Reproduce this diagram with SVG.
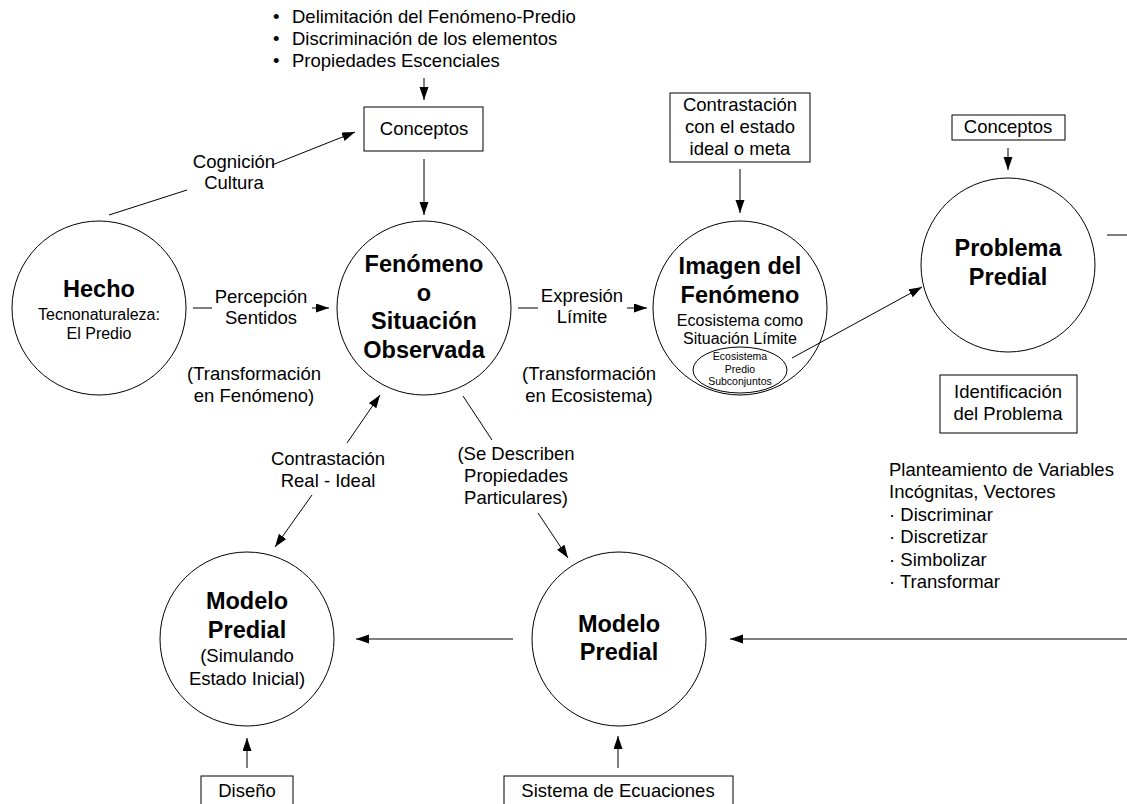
<svg xmlns="http://www.w3.org/2000/svg" width="1127" height="804" viewBox="0 0 1127 804">
<style>
text{font-family:"Liberation Sans",Arial,sans-serif;fill:#000}
.r{font-size:18.5px;text-anchor:middle}
.l{font-size:18.5px}
.b{font-size:23.5px;font-weight:bold;text-anchor:middle}
.s{font-size:16px;text-anchor:middle}
.xs{font-size:10.5px;text-anchor:middle}
.n{fill:#fff;stroke:#000;stroke-width:1}
.c line{stroke:#000;stroke-width:1}
</style>
<defs>
<marker id="a" markerUnits="userSpaceOnUse" markerWidth="14" markerHeight="10" refX="13" refY="4.5" orient="auto">
<path d="M0,0 L13,4.5 L0,9 z" fill="#000"/>
</marker>
</defs>
<rect width="1127" height="804" fill="#fff"/>

<g id="bullets">
<text class="l" x="273" y="23">•</text><text class="l" x="292" y="23">Delimitación del Fenómeno-Predio</text>
<text class="l" x="273" y="45">•</text><text class="l" x="292" y="45">Discriminación de los elementos</text>
<text class="l" x="273" y="67">•</text><text class="l" x="292" y="67">Propiedades Escenciales</text>
</g>

<g id="conceptos1">
<rect class="n" x="364" y="107" width="119" height="44"/>
<text class="r" x="424" y="135">Conceptos</text>
</g>

<g id="hecho">
<circle class="n" cx="99" cy="308" r="87"/>
<text class="b" x="99" y="297">Hecho</text>
<text class="s" x="99" y="320">Tecnonaturaleza:</text>
<text class="s" x="99" y="339">El Predio</text>
</g>

<g id="fenomeno">
<circle class="n" cx="424" cy="308" r="87"/>
<text class="b" x="424" y="272">Fenómeno</text>
<text class="b" x="424" y="301">o</text>
<text class="b" x="424" y="329">Situación</text>
<text class="b" x="424" y="358">Observada</text>
</g>

<g id="contrastacion-meta">
<rect class="n" x="670" y="93" width="140" height="69"/>
<text class="r" x="740" y="111">Contrastación</text>
<text class="r" x="740" y="133">con el estado</text>
<text class="r" x="740" y="155">ideal o meta</text>
</g>

<g id="imagen">
<circle class="n" cx="740" cy="308" r="87"/>
<text class="b" x="740" y="274">Imagen del</text>
<text class="b" x="740" y="303">Fenómeno</text>
<text class="s" x="740" y="326">Ecosistema como</text>
<text class="s" x="740" y="344">Situación Límite</text>
<ellipse class="n" cx="740" cy="370" rx="47" ry="23"/>
<text class="xs" x="740" y="360">Ecosistema</text>
<text class="xs" x="740" y="373">Predio</text>
<text class="xs" x="740" y="385">Subconjuntos</text>
</g>

<g id="conceptos2">
<rect class="n" x="952" y="115" width="113" height="25"/>
<text class="r" x="1008" y="133">Conceptos</text>
</g>

<g id="problema">
<circle class="n" cx="1008" cy="265" r="87"/>
<text class="b" x="1008" y="256">Problema</text>
<text class="b" x="1008" y="285">Predial</text>
</g>

<g id="identificacion">
<rect class="n" x="940" y="375" width="137" height="58"/>
<text class="r" x="1008" y="398">Identificación</text>
<text class="r" x="1008" y="420">del Problema</text>
</g>

<g id="planteamiento">
<text class="l" x="889" y="476">Planteamiento de Variables</text>
<text class="l" x="889" y="498">Incógnitas, Vectores</text>
<text class="l" x="889" y="521">· Discriminar</text>
<text class="l" x="889" y="543">· Discretizar</text>
<text class="l" x="889" y="566">· Simbolizar</text>
<text class="l" x="889" y="588">· Transformar</text>
</g>

<g id="modelo-inicial">
<circle class="n" cx="247" cy="639" r="87"/>
<text class="b" x="247" y="609">Modelo</text>
<text class="b" x="247" y="638">Predial</text>
<text class="r" x="247" y="662">(Simulando</text>
<text class="r" x="247" y="685">Estado Inicial)</text>
</g>

<g id="modelo">
<circle class="n" cx="619" cy="639" r="87"/>
<text class="b" x="619" y="632">Modelo</text>
<text class="b" x="619" y="660">Predial</text>
</g>

<g id="diseno">
<rect class="n" x="201" y="776" width="92" height="40"/>
<text class="r" x="247" y="797">Diseño</text>
</g>

<g id="sistema">
<rect class="n" x="504" y="776" width="229" height="40"/>
<text class="r" x="618" y="797">Sistema de Ecuaciones</text>
</g>

<g id="connectors" class="c">
<line x1="424" y1="78" x2="424" y2="100" marker-end="url(#a)"/>
<line x1="424" y1="159" x2="424" y2="215" marker-end="url(#a)"/>
<line x1="109" y1="215" x2="187" y2="190"/>
<line x1="272" y1="165" x2="355" y2="132" marker-end="url(#a)"/>
<line x1="193" y1="308" x2="212" y2="308"/>
<line x1="312" y1="308" x2="329" y2="308" marker-end="url(#a)"/>
<line x1="518" y1="308" x2="538" y2="308"/>
<line x1="627" y1="308" x2="647" y2="308" marker-end="url(#a)"/>
<line x1="740" y1="169" x2="740" y2="213" marker-end="url(#a)"/>
<line x1="792" y1="358" x2="922" y2="287" marker-end="url(#a)"/>
<line x1="1008" y1="148" x2="1008" y2="170" marker-end="url(#a)"/>
<line x1="1107" y1="235" x2="1127" y2="235"/>
<line x1="1127" y1="639" x2="730" y2="639" marker-end="url(#a)"/>
<line x1="513" y1="639" x2="356" y2="639" marker-end="url(#a)"/>
<line x1="618" y1="768" x2="618" y2="736" marker-end="url(#a)"/>
<line x1="247" y1="768" x2="247" y2="738" marker-end="url(#a)"/>
<line x1="347" y1="443" x2="380" y2="395" marker-end="url(#a)"/>
<line x1="312" y1="495" x2="275" y2="547" marker-end="url(#a)"/>
<line x1="463" y1="396" x2="492" y2="440"/>
<line x1="538" y1="513" x2="568" y2="558" marker-end="url(#a)"/>
</g>

<g id="labels">
<text class="r" x="234" y="168">Cognición</text>
<text class="r" x="234" y="189">Cultura</text>
<text class="r" x="261" y="303">Percepción</text>
<text class="r" x="261" y="324">Sentidos</text>
<text class="r" x="254" y="380">(Transformación</text>
<text class="r" x="254" y="402">en Fenómeno)</text>
<text class="r" x="582" y="302">Expresión</text>
<text class="r" x="582" y="323">Límite</text>
<text class="r" x="589" y="380">(Transformación</text>
<text class="r" x="589" y="402">en Ecosistema)</text>
<text class="r" x="328" y="465">Contrastación</text>
<text class="r" x="328" y="487">Real - Ideal</text>
<text class="r" x="516" y="460">(Se Describen</text>
<text class="r" x="516" y="482">Propiedades</text>
<text class="r" x="516" y="504">Particulares)</text>
</g>
</svg>
